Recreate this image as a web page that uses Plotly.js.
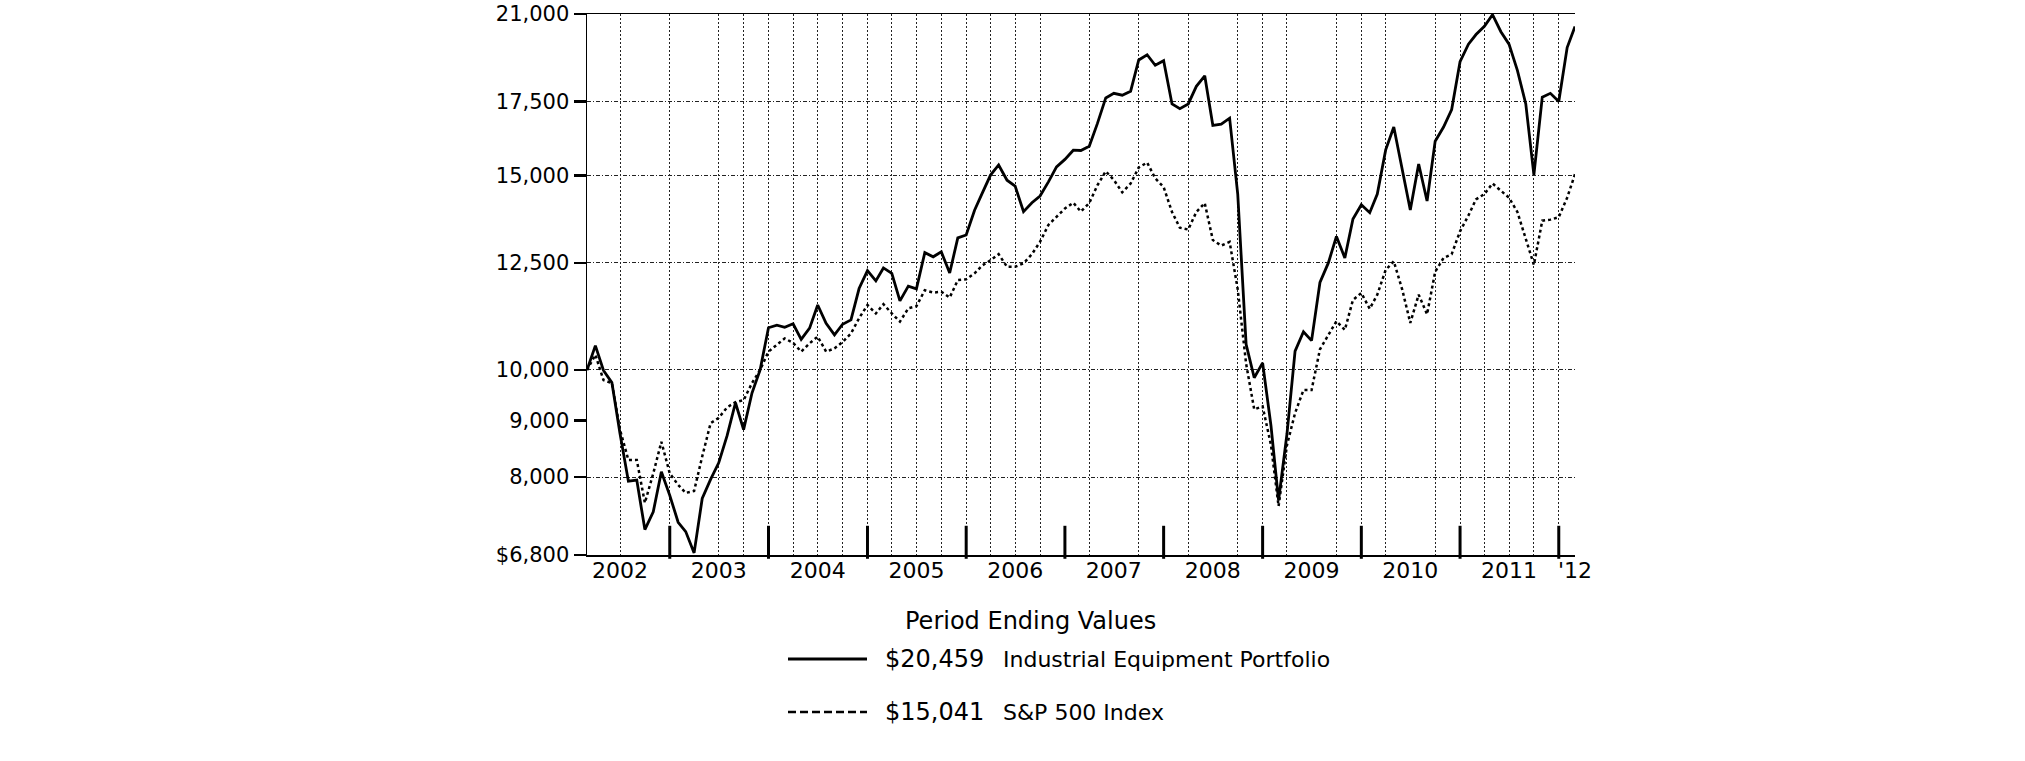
<!DOCTYPE html>
<html>
<head>
<meta charset="utf-8">
<script src="https://cdn.plot.ly/plotly-3.0.1.min.js"></script>
<style>html,body{margin:0;padding:0;background:#fff;}#chart{width:2025px;height:761px;}</style>
</head>
<body>
<div id="chart"></div>
<script>
// Month-end periods (Feb 2002 - Feb 2012)
const periods = [
  '2002-02','2002-03','2002-04','2002-05','2002-06','2002-07','2002-08','2002-09','2002-10','2002-11','2002-12',
  '2003-01','2003-02','2003-03','2003-04','2003-05','2003-06','2003-07','2003-08','2003-09','2003-10','2003-11','2003-12',
  '2004-01','2004-02','2004-03','2004-04','2004-05','2004-06','2004-07','2004-08','2004-09','2004-10','2004-11','2004-12',
  '2005-01','2005-02','2005-03','2005-04','2005-05','2005-06','2005-07','2005-08','2005-09','2005-10','2005-11','2005-12',
  '2006-01','2006-02','2006-03','2006-04','2006-05','2006-06','2006-07','2006-08','2006-09','2006-10','2006-11','2006-12',
  '2007-01','2007-02','2007-03','2007-04','2007-05','2007-06','2007-07','2007-08','2007-09','2007-10','2007-11','2007-12',
  '2008-01','2008-02','2008-03','2008-04','2008-05','2008-06','2008-07','2008-08','2008-09','2008-10','2008-11','2008-12',
  '2009-01','2009-02','2009-03','2009-04','2009-05','2009-06','2009-07','2009-08','2009-09','2009-10','2009-11','2009-12',
  '2010-01','2010-02','2010-03','2010-04','2010-05','2010-06','2010-07','2010-08','2010-09','2010-10','2010-11','2010-12',
  '2011-01','2011-02','2011-03','2011-04','2011-05','2011-06','2011-07','2011-08','2011-09','2011-10','2011-11','2011-12',
  '2012-01','2012-02'
];

// Industrial Equipment Portfolio (solid)
const portfolio = [
  10000,10520,9990,9740,8760,7930,7950,7170,7440,8090,7700,
  7280,7140,6830,7650,7960,8240,8720,9340,8830,9530,10000,10920,
  10980,10930,11010,10660,10910,11450,11020,10760,11000,11100,11850,12300,
  12040,12370,12230,11550,11910,11840,12770,12660,12790,12240,13170,13250,
  13950,14450,15010,15330,14850,14670,13910,14170,14370,14800,15270,15510,
  15810,15800,15940,16710,17630,17800,17730,17880,19080,19290,18870,19050,
  17410,17240,17410,18060,18460,16650,16690,16900,14430,10550,9840,10150,
  8900,7620,8750,10400,10830,10630,12000,12500,13210,12630,13700,14110,
  13880,14430,15820,16590,15210,13960,15360,14220,16110,16590,17210,19010,
  19720,20120,20470,20970,20240,19720,18670,17410,15020,17660,17800,17500,
  19580,20459
];

// S&P 500 Index (dotted)
const sp500 = [
  10000,10320,9790,9730,8830,8290,8290,7580,8060,8610,8060,
  7870,7740,7770,8350,8950,9050,9250,9350,9390,9730,10000,10390,
  10530,10680,10580,10390,10570,10720,10390,10460,10600,10790,11140,11450,
  11250,11470,11250,11060,11370,11420,11810,11750,11770,11630,12060,12080,
  12230,12430,12570,12730,12400,12400,12490,12730,13060,13530,13760,14000,
  14170,13910,14160,14690,15130,14860,14480,14750,15250,15410,14910,14640,
  13900,13450,13400,13900,14160,13110,12960,13060,11830,10130,9210,9270,
  8550,7530,8550,9140,9590,9590,10440,10750,11070,10870,11570,11740,
  11360,11700,12320,12540,11830,11030,11700,11230,12270,12630,12730,13350,
  13800,14270,14430,14750,14530,14320,13900,13110,12450,13650,13680,13750,
  14320,15041
];

const seriesNames = ['Industrial Equipment Portfolio', 'S&P 500 Index'];

// Axis ticks / labels
const yTickVals = [6800, 8000, 9000, 10000, 12500, 15000, 17500, 21000];
const yTickText = ['$6,800', '8,000', '9,000', '10,000', '12,500', '15,000', '17,500', '21,000'];
const yGridVals = [8000, 10000, 12500, 15000, 17500];
const yearLabelMonths = ['2002-06','2003-06','2004-06','2005-06','2006-06','2007-06','2008-06','2009-06','2010-06','2011-06','2012-02'];
const yearLabels = ['2002','2003','2004','2005','2006','2007','2008','2009','2010','2011',"'12"];
const yearEndMonths = ['2002-12','2003-12','2004-12','2005-12','2006-12','2007-12','2008-12','2009-12','2010-12','2011-12'];
const gridMonths = ['2002-06','2002-12','2003-06','2003-09','2003-12','2004-03','2004-06','2004-09','2004-12',
  '2005-03','2005-06','2005-09','2005-12','2006-03','2006-06','2006-09','2007-03','2007-09','2008-03',
  '2008-09','2008-12','2009-03','2009-09','2009-12','2010-03','2010-09','2010-12','2011-03','2011-06',
  '2011-09','2011-12'];

function monthEnd(s) {
  const parts = s.split('-').map(Number);
  const d = new Date(Date.UTC(parts[0], parts[1], 0));
  return d.toISOString().slice(0, 10);
}
function money(v) { return '$' + v.toLocaleString('en-US'); }

const xDates = periods.map(monthEnd);
const xRange = [xDates[0], xDates[xDates.length - 1]];
const FONT = 'DejaVu Sans, Verdana, sans-serif';

const traces = [
  {
    x: xDates, y: sp500, name: seriesNames[1], type: 'scatter', mode: 'lines',
    xaxis: 'x', yaxis: 'y',
    line: {color: '#000', width: 2.5, dash: 'dot'}, hoverinfo: 'skip'
  },
  {
    x: xDates, y: portfolio, name: seriesNames[0], type: 'scatter', mode: 'lines',
    xaxis: 'x2', yaxis: 'y',
    line: {color: '#000', width: 2.8}, hoverinfo: 'skip'
  }
];

function px2paperX(px) { return (px - 587) / 988; }
function px2paperY(py) { return (555 - py) / 541; }

const row1 = px2paperY(659), row2 = px2paperY(712);

// Year divider ticks (thick, pointing up from the x axis), positioned via the date scale
const yearTickShapes = yearEndMonths.map(m => ({
  type: 'line', xref: 'x', yref: 'paper',
  x0: monthEnd(m), x1: monthEnd(m), y0: -0.007, y1: 0.054,
  line: {color: '#000', width: 3}
}));

const layout = {
  width: 2025, height: 761,
  margin: {l: 587, r: 450, t: 14, b: 206, pad: 0},
  paper_bgcolor: '#fff', plot_bgcolor: '#fff',
  showlegend: false,
  font: {family: FONT, color: '#000'},
  // base x axis: dotted vertical gridlines + axis line with top border
  xaxis: {
    type: 'date', range: xRange,
    tickmode: 'array', tickvals: gridMonths.map(monthEnd),
    ticks: '', showticklabels: false,
    showgrid: true, gridcolor: '#222', gridwidth: 1, griddash: '2px,2px',
    zeroline: false,
    showline: true, linecolor: '#000', linewidth: 1.5, mirror: true,
    fixedrange: true
  },
  // overlay x axis: year labels
  xaxis2: {
    type: 'date', range: xRange, overlaying: 'x', anchor: 'y', side: 'bottom',
    tickmode: 'array', tickvals: yearLabelMonths.map(monthEnd), ticktext: yearLabels,
    ticks: '', showgrid: false, showline: false, zeroline: false,
    tickfont: {family: FONT, size: 22, color: '#000'},
    fixedrange: true
  },
  yaxis: {
    type: 'log', range: [Math.log10(6800), Math.log10(21000)],
    tickmode: 'array', tickvals: yTickVals, ticktext: yTickText,
    ticks: 'outside', ticklen: 12, tickwidth: 2.5, tickcolor: '#000',
    showline: true, linecolor: '#000', linewidth: 1.5,
    showgrid: false, zeroline: false,
    tickfont: {family: FONT, size: 21, color: '#000'},
    minor: {tickmode: 'array', tickvals: yGridVals, showgrid: true,
            gridcolor: '#222', gridwidth: 1, griddash: '4px,2px,1px,2px', ticks: ''},
    fixedrange: true
  },
  shapes: yearTickShapes.concat([
    {type: 'line', xref: 'paper', yref: 'paper', x0: px2paperX(788), x1: px2paperX(867), y0: row1, y1: row1,
     line: {color: '#000', width: 3}},
    {type: 'line', xref: 'paper', yref: 'paper', x0: px2paperX(788), x1: px2paperX(867), y0: row2, y1: row2,
     line: {color: '#000', width: 2.5, dash: '8px,4px'}}
  ]),
  annotations: [
    {text: 'Period Ending Values', xref: 'paper', yref: 'paper', x: px2paperX(1030), y: px2paperY(621),
     xanchor: 'center', yanchor: 'middle', showarrow: false, font: {family: FONT, size: 24, color: '#000'}},
    {text: money(portfolio[portfolio.length - 1]), xref: 'paper', yref: 'paper', x: px2paperX(883), y: row1,
     xanchor: 'left', yanchor: 'middle', showarrow: false, font: {family: FONT, size: 24, color: '#000'}},
    {text: seriesNames[0], xref: 'paper', yref: 'paper', x: px2paperX(1001), y: row1,
     xanchor: 'left', yanchor: 'middle', showarrow: false, font: {family: FONT, size: 22, color: '#000'}},
    {text: money(sp500[sp500.length - 1]), xref: 'paper', yref: 'paper', x: px2paperX(883), y: row2,
     xanchor: 'left', yanchor: 'middle', showarrow: false, font: {family: FONT, size: 24, color: '#000'}},
    {text: seriesNames[1], xref: 'paper', yref: 'paper', x: px2paperX(1001), y: row2,
     xanchor: 'left', yanchor: 'middle', showarrow: false, font: {family: FONT, size: 22, color: '#000'}}
  ]
};

Plotly.newPlot('chart', traces, layout, {staticPlot: true, displayModeBar: false});
</script>
</body>
</html>
